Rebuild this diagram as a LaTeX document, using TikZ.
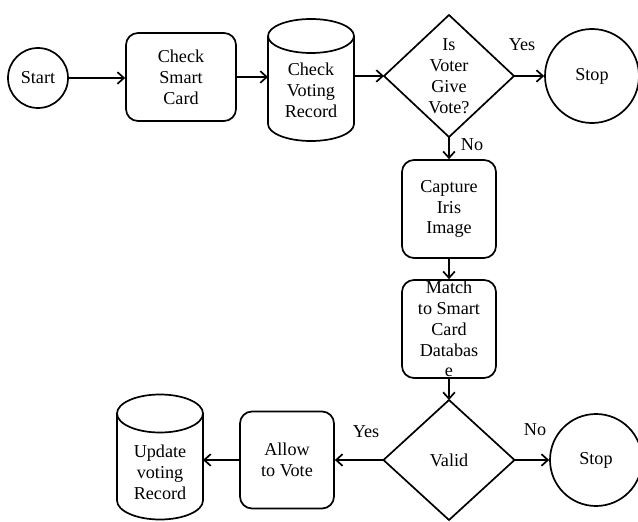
\documentclass[tikz,border=0pt]{standalone}
\usepackage{fontspec}
\setmainfont{Liberation Serif}
\usetikzlibrary{arrows.meta,shapes.geometric}

% Draws a vertical drum (database) around a frame node: #1 node name, #2 end-cap y radius
\newcommand\drawdrum[2]{%
  \draw ([yshift=-#2]#1.north west) -- ([yshift=#2]#1.south west)
        arc[start angle=180,end angle=360,x radius=1.29cm,y radius=#2]
        -- ([yshift=-#2]#1.north east);
  \draw ([yshift=-#2]#1.north) ellipse[x radius=1.29cm,y radius=#2];
}

\begin{document}
\begin{tikzpicture}[x=0.03cm,y=0.03cm,line width=1.45pt,
  every node/.style={font=\fontsize{15.5}{17.8}\selectfont,align=center,inner sep=0pt},
  terminal/.style={circle,draw,minimum size=#1},
  process/.style={draw,rounded corners=0.36cm,minimum width=2.82cm,minimum height=2.94cm},
  frame/.style={outer sep=0pt,minimum width=#1},
  flow/.style={-{Straight Barb[length=5.5pt,width=10pt]}}
]
\useasboundingbox (0,0) rectangle (638,521);

% top row
\node[terminal=1.8cm] (start) at (38,443) {Start};
\node[process,minimum width=3.3cm,minimum height=2.64cm] (csc) at (181,444) {Check\\Smart\\Card};
\node[frame=2.58cm,minimum height=3.66cm] (cvr) at (311,441) {};
\drawdrum{cvr}{0.51cm}
\node at ([yshift=-0.3cm]cvr.center) {Check\\Voting\\Record};
\node[frame=3.9cm,minimum height=3.66cm] (d1) at (449,445) {Is\\Voter\\Give\\Vote?};
\draw (d1.north) -- (d1.east) -- (d1.south) -- (d1.west) -- cycle;
\node[terminal=2.82cm] (stop1) at (592,445) {Stop};

% middle column
\node[process] (cap) at (449,312) {Capture\\Iris\\Image};
\node[process] (match) at (449,192) {Match\\to Smart\\Card\\Databas\\e};

% bottom row
\node[frame=3.93cm,minimum height=3.6cm] (d2) at (449,61) {Valid};
\draw (d2.north) -- (d2.east) -- (d2.south) -- (d2.west) -- cycle;
\node[terminal=2.76cm] (stop2) at (596,61) {Stop};
\node[process,minimum height=2.91cm] (allow) at (287,61) {Allow\\to Vote};
\node[frame=2.58cm,minimum height=3.75cm] (upd) at (160,64) {};
\drawdrum{upd}{0.57cm}
\node at ([yshift=-0.45cm]upd.center) {Update\\voting\\Record};

% connectors
\draw[flow] (start) -- (start -| csc.west);
\draw[flow] (csc.east) -- (csc.east -| cvr.west);
\draw[flow] (d1.west -| cvr.east) -- (d1.west);
\draw[flow] (d1.east) -- (stop1);
\draw[flow] (d1.south) -- (cap.north);
\draw[flow] (cap) -- (match);
\draw[flow] (match) -- (d2.north);
\draw[flow] (d2.east) -- (stop2);
\draw[flow] (d2.west) -- (allow);
\draw[flow] (allow.west) -- (allow.west -| upd.east);

% branch labels
\node at (522,476) {Yes};
\node at (472,376) {No};
\node at (366,89) {Yes};
\node at (535,91) {No};
\end{tikzpicture}
\end{document}
